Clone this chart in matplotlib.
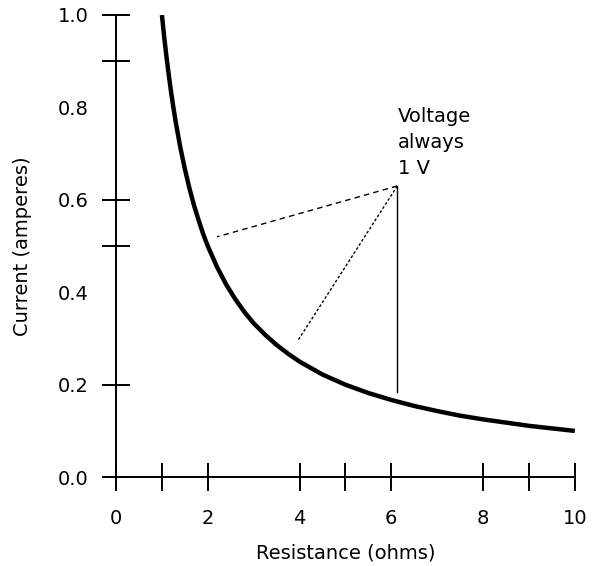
import numpy as np
from matplotlib import pyplot as plt

# current through the circuit (voltage held at 1 V)
resistance = [1.0, 1.05, 1.1, 1.15, 1.2, 1.25, 1.3, 1.4, 1.5, 1.6, 1.7, 1.8, 1.9,
              2.0, 2.2, 2.4, 2.6, 2.8, 3.0, 3.25, 3.5, 3.75, 4.0, 4.5, 5.0, 5.5,
              6.0, 6.5, 7.0, 7.5, 8.0, 9.0, 10.0]
current = [1.0, 0.952, 0.909, 0.87, 0.833, 0.8, 0.769, 0.714, 0.667, 0.625, 0.588,
           0.556, 0.526, 0.5, 0.455, 0.417, 0.385, 0.357, 0.333, 0.308, 0.286,
           0.267, 0.25, 0.222, 0.2, 0.182, 0.167, 0.154, 0.143, 0.133, 0.125,
           0.111, 0.1]

x_labels = [0, 2, 4, 6, 8, 10]
x_marks = [0, 1, 2, 4, 5, 6, 8, 9, 10]
y_labels = [0.0, 0.2, 0.4, 0.6, 0.8, 1.0]
y_marks = [0.0, 0.2, 0.5, 0.6, 0.9, 1.0]

# annotation: hub point and the three leader line ends
hub = (6.13, 0.63)
leader_ends = [(2.2, 0.52), (3.96, 0.295), (6.13, 0.184)]
leader_styles = [(0, (4, 3)), (0, (2, 1.5)), '-']

plt.rcParams['font.family'] = ['DejaVu Sans']

fig = plt.figure(figsize=(5.92, 5.66), dpi=100)
ax = fig.add_axes([0.196, 0.157, 0.775, 0.8165])
ax.xaxis.remove_overlapping_locs = False
ax.yaxis.remove_overlapping_locs = False

ax.plot(resistance, current, color='black', lw=3.2, solid_capstyle='butt',
        solid_joinstyle='round')

for (ex, ey), ls in zip(leader_ends, leader_styles):
    ax.plot([hub[0], ex], [hub[1], ey], color='black', lw=1, linestyle=ls)

ax.text(6.15, 0.648, 'Voltage\nalways\n1 V', fontsize=14, ha='left', va='bottom',
        linespacing=1.45)

ax.set_xlim(0, 10)
ax.set_ylim(0, 1.0)
ax.spines['top'].set_visible(False)
ax.spines['right'].set_visible(False)
for s in ['left', 'bottom']:
    ax.spines[s].set_linewidth(1.4)

ax.set_xticks(x_labels)
ax.set_xticklabels([str(v) for v in x_labels])
ax.set_yticks(y_labels)
ax.set_yticklabels(['%.1f' % v for v in y_labels])
ax.tick_params(which='major', length=0, labelsize=14)
ax.tick_params(axis='x', which='major', pad=23)
ax.tick_params(axis='y', which='major', pad=20)
ax.set_xticks(x_marks, minor=True)
ax.set_yticks(y_marks, minor=True)
ax.tick_params(which='minor', direction='inout', length=20, width=1.4)

ax.set_xlabel('Resistance (ohms)', fontsize=14, labelpad=11)
ax.set_ylabel('Current (amperes)', fontsize=14, labelpad=18)

fig.savefig('out.png', dpi=100)
